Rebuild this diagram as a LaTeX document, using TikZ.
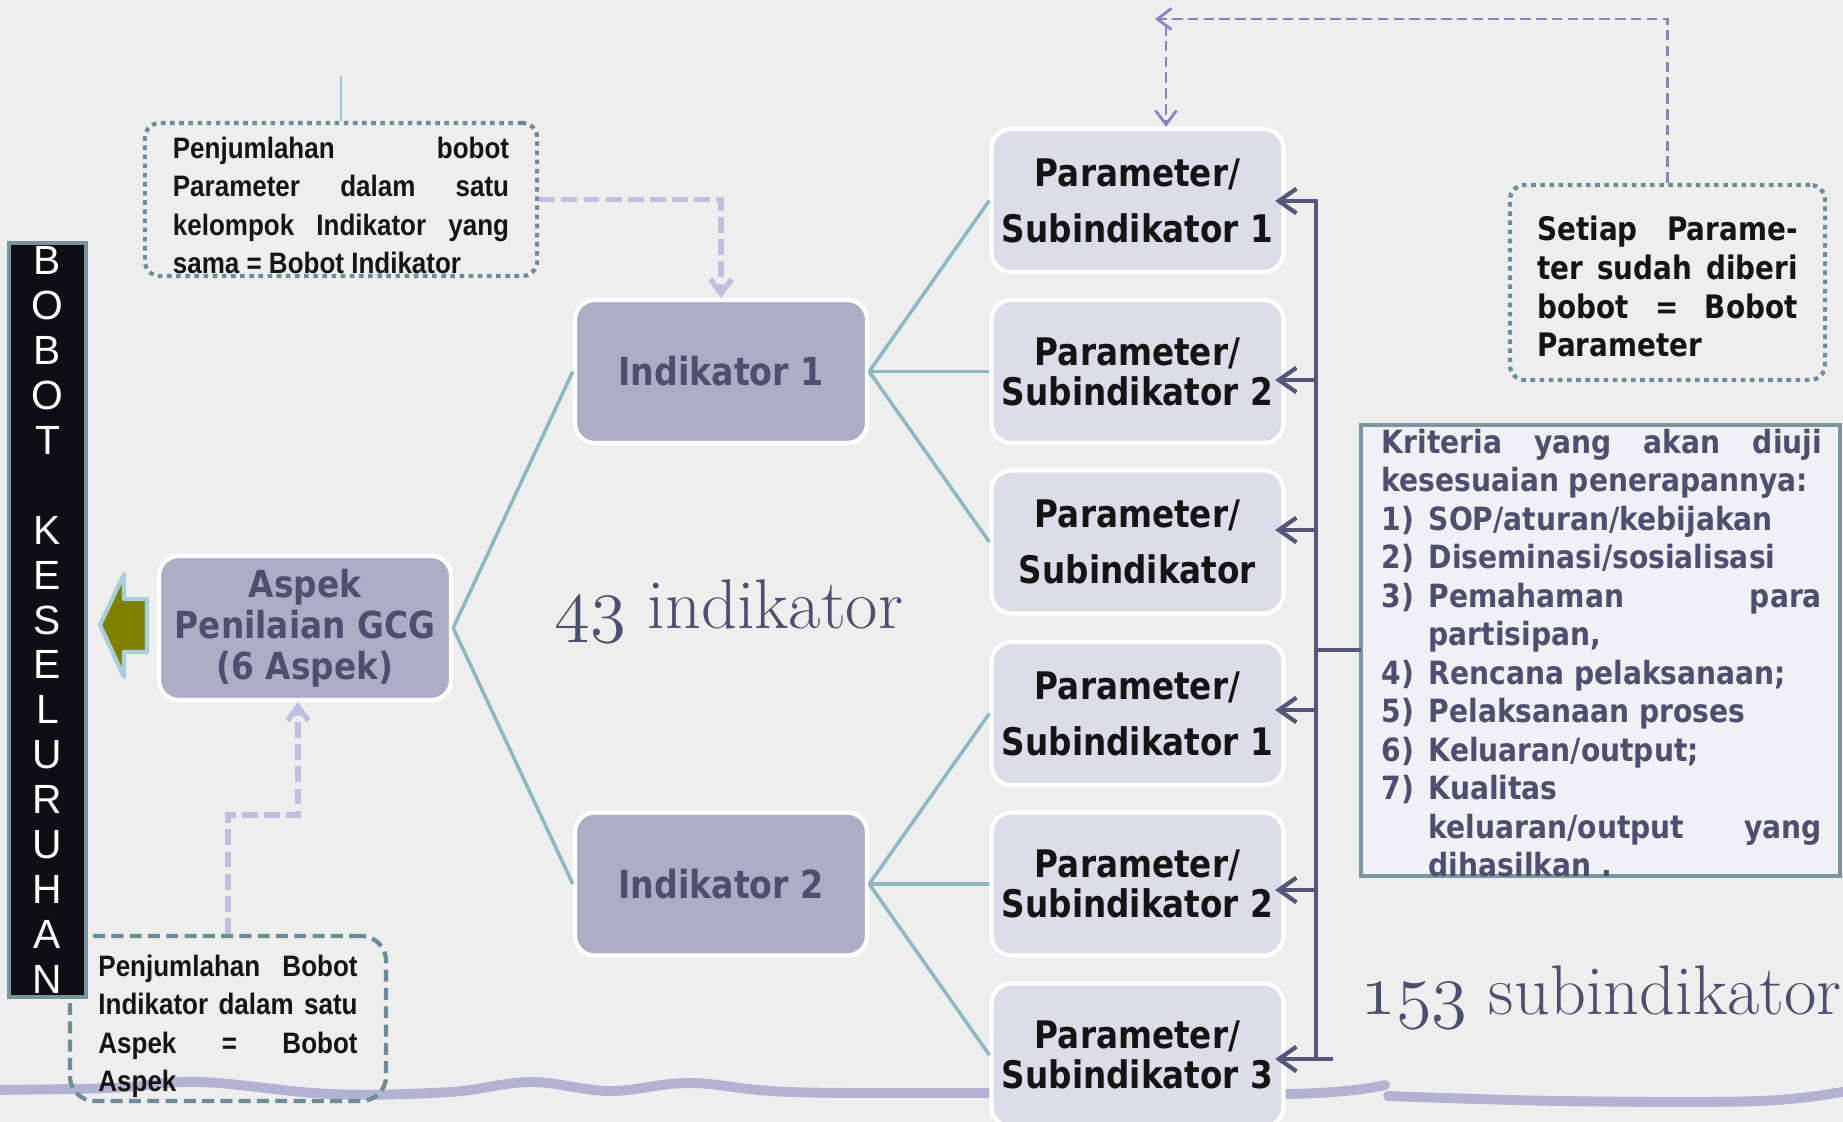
\documentclass[tikz,border=0pt]{standalone}
\usepackage{fontspec}
\usepackage{tikz}
\usetikzlibrary{calc,arrows.meta}

\newfontfamily\notefont[FakeStretch=0.88]{Liberation Sans}
\newfontfamily\boxfont[FakeStretch=0.86]{DejaVu Sans}
\newfontfamily\kritfont[FakeStretch=0.88]{DejaVu Sans}
\newfontfamily\barfont{Liberation Sans}
\newcommand{\oldnum}[1]{{\usefont{OML}{cmm}{m}{it}#1}}
\newcommand{\critem}[1]{\par\noindent\hangindent=0.47cm\hangafter=1\hbox to 0.47cm{#1\hfil}}
\newcommand{\notetop}{\rule{0pt}{9.5pt}}

\definecolor{bgcol}{HTML}{EEEEEE}
\definecolor{stubblue}{HTML}{9CC4D0}
\definecolor{linkteal}{HTML}{8DB8C1}
\definecolor{notegray}{HTML}{6E8C97}
\definecolor{indfill}{HTML}{ADAEC6}
\definecolor{parfill}{HTML}{DDDDEA}
\definecolor{slate}{HTML}{4E4F6E}
\definecolor{busdark}{HTML}{56567A}
\definecolor{lavdash}{HTML}{C0C0DE}
\definecolor{purpdash}{HTML}{8585C6}
\definecolor{kritfill}{HTML}{F1F0F6}
\definecolor{kritdraw}{HTML}{7A97A1}
\definecolor{olivefill}{HTML}{808000}
\definecolor{arrowrim}{HTML}{A8D0DC}
\definecolor{bandcol}{HTML}{B2B2D2}
\definecolor{barfill}{HTML}{0E0E14}
\definecolor{bardraw}{HTML}{7A929C}

\begin{document}
\begin{tikzpicture}[x=0.01cm,y=-0.01cm,
  box/.style={rectangle,rounded corners=0.2cm,draw=white,line width=1.2pt,minimum width=2.92cm,minimum height=1.43cm,inner sep=0pt,align=center},
  indbox/.style={box,fill=indfill,text=slate,font=\boxfont\bfseries\fontsize{11}{13}\selectfont},
  aspbox/.style={box,fill=indfill,text=slate,minimum height=1.44cm,font=\kritfont\bfseries\fontsize{10.6}{11.6}\selectfont},
  parbox/.style={box,fill=parfill,text=black!92,font=\boxfont\bfseries\fontsize{10.8}{11.4}\selectfont},
  note/.style={rectangle,draw=notegray,line width=1.2pt,rounded corners=0.15cm,align=justify,inner ysep=0pt,text=black!92,font=\notefont\bfseries\fontsize{8.4}{10.95}\selectfont},
  dotnote/.style={note,dash pattern=on 1.3pt off 1.3pt},
  dashnote/.style={note,rounded corners=0.25cm,dash pattern=on 3.4pt off 1.8pt},
  barbox/.style={rectangle,fill=barfill,draw=bardraw,line width=1.2pt,minimum width=0.77cm,minimum height=7.54cm,inner sep=0pt,align=center,text=white,font=\barfont\fontsize{11.6}{12.77}\selectfont},
  kritbox/.style={rectangle,fill=kritfill,draw=kritdraw,line width=1.2pt,minimum width=4.79cm,minimum height=4.51cm,inner sep=0pt},
  krittext/.style={text width=4.4cm,inner sep=0pt,align=justify,text=slate,font=\kritfont\bfseries\fontsize{9.1}{10.95}\selectfont},
  biglabel/.style={inner sep=0pt,text=slate,font=\fontsize{20}{22}\selectfont},
  link/.style={draw=linkteal,line width=1pt},
  bus/.style={draw=busdark,line width=1.2pt,line cap=rect},
  busarrow/.style={bus,-{Straight Barb[length=5pt,width=7pt]},shorten >=-3pt},
  lavarrow/.style={draw=lavdash,line width=1.5pt,dash pattern=on 4.5pt off 1.8pt,-{Straight Barb[length=4pt,width=6pt]}},
  purparrow/.style={draw=purpdash,line width=0.8pt,dash pattern=on 3pt off 1.5pt,-{Straight Barb[length=4pt,width=6pt]}},
  band/.style={draw=bandcol,line width=2.8pt,line cap=round}]

\clip (0,0) rectangle (1843,1122);
\fill[bgcol] (0,0) rectangle (1843,1122);

% wavy band at the bottom
\draw[band] plot[smooth,tension=0.6] coordinates {(-10,1090) (110,1088) (200,1082) (330,1094) (450,1092) (530,1082) (610,1091) (690,1083) (790,1092) (990,1093) (1290,1094) (1385,1085)};
\draw[band] plot[smooth,tension=0.6] coordinates {(1388,1096) (1560,1101) (1760,1101) (1853,1090)};

% notes
\node[dotnote,text width=3.36cm,inner xsep=0.28cm,minimum height=1.53cm] (topnote) at (341,199.5) {\notetop Penjumlahan bobot\linebreak Parameter dalam satu\linebreak kelompok Indikator yang\linebreak sama = Bobot Indikator};
\node[dashnote,text width=2.59cm,inner xsep=0.285cm,minimum height=1.65cm] (botnote) at (228,1018.5) {\rule{0pt}{10.5pt}Penjumlahan Bobot\linebreak Indikator dalam satu\linebreak Aspek = Bobot\linebreak Aspek};
\node[dotnote,font=\boxfont\bfseries\fontsize{9.2}{11}\selectfont,text width=2.6cm,inner xsep=0.275cm,minimum height=1.95cm] (setiap) at (1667.5,282.5) {\notetop Setiap Parame-\linebreak ter sudah diberi\linebreak bobot = Bobot\linebreak Parameter};

\coordinate (stub) at (341,76);
\draw[stubblue,line width=0.6pt] (stub) -- (stub |- topnote.north);

% vertical bar
\node[barbox] (bar) at (47.5,620) {B\\O\\B\\O\\T\\[12.77pt]K\\E\\S\\E\\L\\U\\R\\U\\H\\A\\N};

% main boxes
\node[aspbox] (aspek) at (305,628) {Aspek\\Penilaian GCG\\(6 Aspek)};
\node[indbox] (ind1) at (721,371.5) {Indikator 1};
\node[indbox] (ind2) at (721,884) {Indikator 2};

\node[parbox] (p1) at (1137.5,200.5) {Parameter/\\[4.5pt]Subindikator 1};
\node[parbox] (p2) at (1137.5,371.5) {Parameter/\\Subindikator 2};
\node[parbox] (p3) at (1137.5,542) {Parameter/\\[4.5pt]Subindikator};
\node[parbox] (p4) at (1137.5,713.5) {Parameter/\\[4.5pt]Subindikator 1};
\node[parbox] (p5) at (1137.5,884) {Parameter/\\Subindikator 2};
\node[parbox] (p6) at (1137.5,1055) {Parameter/\\Subindikator 3};

% criteria list
\node[kritbox] (krit) at (1600.5,650.5) {};
\begin{scope}
\clip (krit.south west) rectangle (krit.north east);
\node[krittext,anchor=north west] (kritlist) at (1381,428) {\hyphenpenalty=10000\relax
Kriteria yang akan diuji\linebreak kesesuaian penerapannya:
\critem{1)}SOP/aturan/kebijakan
\critem{2)}Diseminasi/sosialisasi
\critem{3)}Pemahaman para\linebreak partisipan,
\critem{4)}Rencana pelaksanaan;
\critem{5)}Pelaksanaan proses
\critem{6)}Keluaran/output;
\critem{7)}Kualitas\newline keluaran/output yang\linebreak dihasilkan .\par};
\end{scope}

\node[biglabel] (nind) at (729,611) {\oldnum{43} indikator};
\node[biglabel] (nsub) at (1601,997) {\oldnum{153} subindikator};

% links
\draw[link] (aspek.east) -- (ind1.west);
\draw[link] (aspek.east) -- (ind2.west);
\foreach \p in {p1,p2,p3}
  \draw[link] (ind1.east) -- (\p.west);
\foreach \p in {p4,p5,p6}
  \draw[link] (ind2.east) -- (\p.west);

% bus on the right
\draw[bus] (1316,201) -- (1316,1059) -- (1331,1059);
\foreach \n/\y in {p1/201,p2/380,p3/530,p4/710,p5/890,p6/1059}
  \draw[busarrow] (1316,\y) -- (\n.east |- 1316,\y);
\draw[bus] (1316,650) -- (krit.west |- 1316,650);

% dashed arrows
\draw[lavarrow] (topnote.east) -| (ind1.north);
\coordinate (aspbend) at (298,815);
\draw[lavarrow] (botnote.north) |- (aspbend) -- (aspbend |- aspek.south);
\coordinate (topturn) at (1155,19);
\coordinate (topdrop) at (1166,25);
\draw[purparrow] (setiap.north) |- (topturn);
\draw[purparrow] (topdrop) -- (topdrop |- p1.north);

% block arrow to the bar
\draw[fill=olivefill,draw=arrowrim,line width=1.2pt,line join=round] (147,599) -- (124,599) -- (124,574) -- (100,625) -- (124,677) -- (124,652) -- (147,652) -- cycle;
\end{tikzpicture}
\end{document}
